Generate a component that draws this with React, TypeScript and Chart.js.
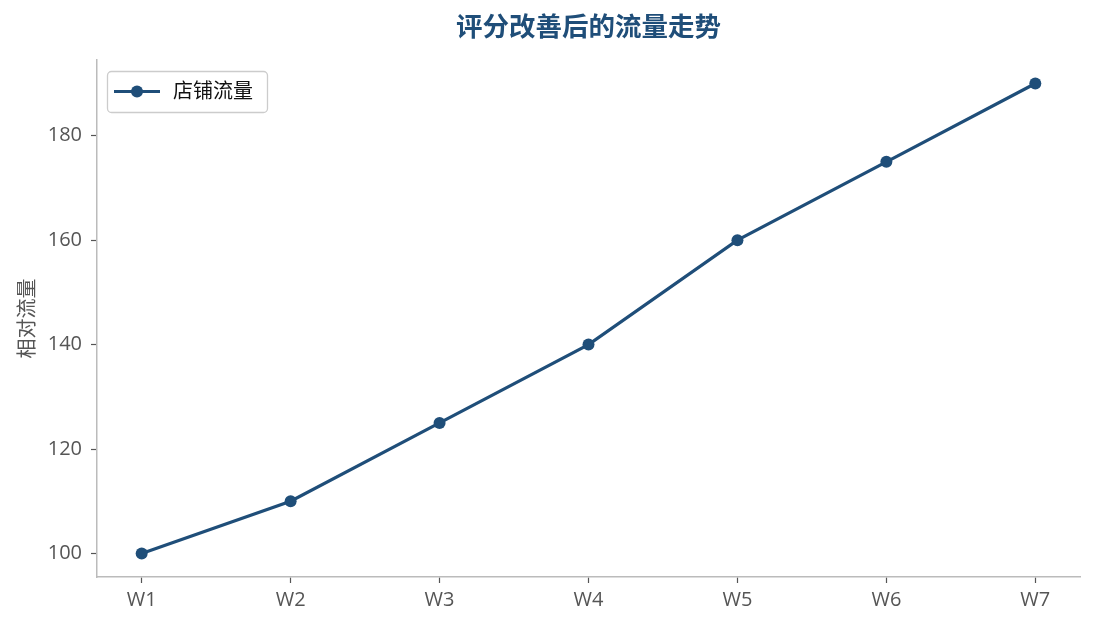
import React, { useEffect, useRef } from "react";
import { Chart, registerables } from "chart.js";

Chart.register(...registerables);

const weeks = ["W1", "W2", "W3", "W4", "W5", "W6", "W7"];
const traffic = [100, 110, 125, 140, 160, 175, 190];
const yTicks = [100, 120, 140, 160, 180];
const seriesLabel = "店铺流量";
const chartTitle = "评分改善后的流量走势";
const yTitle = "相对流量";

const COLOR = "#1f4e79";
const FONT = "'Open Sans', 'Noto Sans CJK SC', sans-serif";

const titlePlugin = {
  id: "areaTitle",
  afterDraw(chart: any) {
    const ctx = chart.ctx;
    const area = chart.chartArea;
    ctx.save();
    ctx.fillStyle = COLOR;
    ctx.font = `bold 26.5px ${FONT}`;
    ctx.textAlign = "center";
    ctx.textBaseline = "middle";
    ctx.fillText(chartTitle, (area.left + area.right) / 2, 28);
    ctx.restore();
  },
};

const legendPlugin = {
  id: "boxLegend",
  afterDraw(chart: any) {
    const ctx = chart.ctx;
    const area = chart.chartArea;
    const x0 = area.left + 10;
    const y0 = area.top + 11;
    const w = 160;
    const h = 41;
    ctx.save();
    ctx.beginPath();
    ctx.roundRect(x0 + 0.5, y0 + 0.5, w, h, 4);
    ctx.fillStyle = "rgba(255,255,255,0.85)";
    ctx.fill();
    ctx.strokeStyle = "#cccccc";
    ctx.lineWidth = 1.3;
    ctx.stroke();
    const cy = y0 + h / 2;
    ctx.beginPath();
    ctx.moveTo(x0 + 7, cy);
    ctx.lineTo(x0 + 53, cy);
    ctx.strokeStyle = COLOR;
    ctx.lineWidth = 3.2;
    ctx.stroke();
    ctx.beginPath();
    ctx.arc(x0 + 30, cy, 6, 0, Math.PI * 2);
    ctx.fillStyle = COLOR;
    ctx.fill();
    ctx.fillStyle = "#111111";
    ctx.font = `20px ${FONT}`;
    ctx.textBaseline = "middle";
    ctx.textAlign = "left";
    ctx.fillText(chart.data.datasets[0].label, x0 + 66, cy + 1);
    ctx.restore();
  },
};

export default function App() {
  const ref = useRef<HTMLCanvasElement>(null);
  useEffect(() => {
    if (!ref.current) return;
    const chart = new Chart(ref.current, {
      type: "line",
      data: {
        datasets: [
          {
            label: seriesLabel,
            data: traffic.map((v, i) => ({ x: i, y: v })),
            borderColor: COLOR,
            backgroundColor: COLOR,
            borderWidth: 3.2,
            pointRadius: 6,
            pointHoverRadius: 6,
            pointBackgroundColor: COLOR,
            pointBorderWidth: 0,
            tension: 0,
          },
        ],
      },
      options: {
        responsive: false,
        animation: false,
        devicePixelRatio: 1,
        layout: { padding: { left: 0, right: 15, top: 60, bottom: 0 } },
        plugins: {
          legend: { display: false },
          tooltip: { enabled: false },
          title: { display: false },
        },
        scales: {
          x: {
            type: "linear",
            min: -0.3,
            max: 6.3,
            afterBuildTicks(axis: any) {
              axis.ticks = weeks.map((_, i) => ({ value: i }));
            },
            afterFit(axis: any) {
              axis.height = 52;
            },
            ticks: {
              callback: (v: any) => weeks[v as number] ?? "",
              color: "#555555",
              font: { family: FONT, size: 20 },
              padding: 5,
              maxRotation: 0,
            },
            grid: {
              drawOnChartArea: false,
              tickLength: 6,
              tickColor: "#555555",
              tickWidth: 1.2,
            },
            border: { color: "#bbbbbb", width: 1.5 },
          },
          y: {
            min: 95.5,
            max: 194.5,
            afterBuildTicks(axis: any) {
              axis.ticks = yTicks.map((v) => ({ value: v }));
            },
            afterFit(axis: any) {
              axis.width = 97;
            },
            ticks: {
              color: "#555555",
              font: { family: FONT, size: 20 },
              padding: 9,
            },
            grid: {
              drawOnChartArea: false,
              tickLength: 6,
              tickColor: "#555555",
              tickWidth: 1.2,
            },
            border: { color: "#bbbbbb", width: 1.5 },
            title: {
              display: true,
              text: yTitle,
              color: "#555555",
              font: { family: FONT, size: 20 },
              padding: { top: 16, bottom: 0 },
            },
          },
        },
      } as any,
      plugins: [titlePlugin, legendPlugin],
    });
    return () => chart.destroy();
  }, []);
  return (
    <div style={{ position: "absolute", left: 0, top: 0, width: 1095, height: 629, background: "#fff" }}>
      <canvas ref={ref} width={1095} height={629} />
    </div>
  );
}
